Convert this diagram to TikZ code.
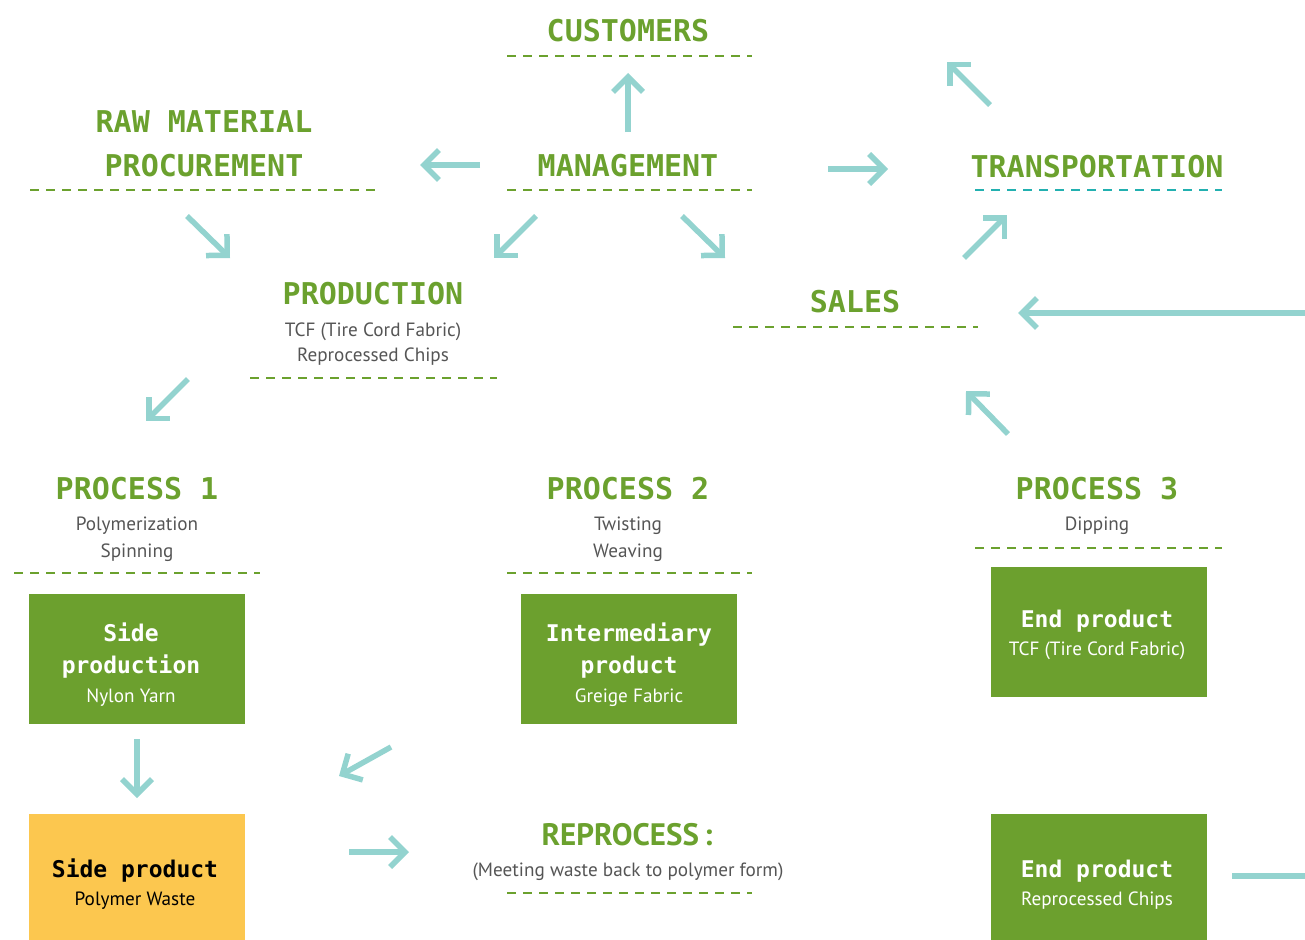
\documentclass[tikz,border=0pt]{standalone}
\usepackage{fontspec}
\setmainfont{PT Sans}
\newfontfamily\tfont{DejaVu Sans Mono}
\usetikzlibrary{arrows.meta}
\definecolor{tgreen}{HTML}{6BA12E}
\definecolor{bgreen}{HTML}{6CA02E}
\definecolor{teal}{HTML}{93D3CF}
\definecolor{yel}{HTML}{FCC74F}
\definecolor{gtext}{HTML}{555555}
\definecolor{tdash}{HTML}{22B0B0}
\tikzset{
  title/.style={font=\tfont\bfseries\fontsize{30}{36}\selectfont, text=tgreen, inner sep=0pt, anchor=base},
  sub/.style={font=\fontsize{19.2}{24}\selectfont, text=gtext, inner sep=0pt, anchor=base},
  btitle/.style={font=\tfont\bfseries\fontsize{23}{28}\selectfont, text=white, inner sep=0pt, anchor=base},
  bsub/.style={font=\fontsize{19.2}{24}\selectfont, text=white, inner sep=0pt, anchor=base},
  gbox/.style={fill=bgreen, draw=none, inner sep=0pt, minimum width=216pt},
  ybox/.style={fill=yel, draw=none, inner sep=0pt, minimum width=216pt},
  dline/.style={draw=tgreen, line width=2.4pt, dash pattern=on 9pt off 7pt},
  tline/.style={draw=tdash, line width=2.4pt, dash pattern=on 9pt off 7pt},
  arr/.style={draw=teal, line width=5.5pt, -{Straight Barb[length=15pt, width=30pt]}},
  plain/.style={draw=teal, line width=5.5pt},
}
\begin{document}
\begin{tikzpicture}[x=1pt, y=-1pt]
\useasboundingbox (0,0) rectangle (1305,939);

% ---- titles ----
\node[title] (cust) at (628,42) {CUSTOMERS};
\draw[dline] (507,56) -- (752,56);

\node[title] (mgmt) at (628,176) {MANAGEMENT};
\draw[dline] (507,190) -- (752,190);

\node[title] (raw1) at (204,132) {RAW MATERIAL};
\node[title] (raw2) at (204,176) {PROCUREMENT};
\draw[dline] (30,190) -- (378,190);

\node[title] (trans) at (1097,177) {TRANSPORTATION};
\draw[tline] (975,190) -- (1222,190);

\node[title] (prod) at (373,304) {PRODUCTION};
\node[sub] (prodA) at (373,336) {TCF (Tire Cord Fabric)};
\node[sub] (prodB) at (373,361) {Reprocessed Chips};
\draw[dline] (250,378) -- (497,378);

\node[title] (sales) at (855,312) {SALES};
\draw[dline] (733,327) -- (978,327);

\node[title] (p1) at (137,499) {PROCESS 1};
\node[sub] (p1a) at (137,530) {Polymerization};
\node[sub] (p1b) at (137,557) {Spinning};
\draw[dline] (14,573) -- (260,573);

\node[title] (p2) at (628,499) {PROCESS 2};
\node[sub] (p2a) at (628,530) {Twisting};
\node[sub] (p2b) at (628,557) {Weaving};
\draw[dline] (507,573) -- (752,573);

\node[title] (p3) at (1097,499) {PROCESS 3};
\node[sub] (p3a) at (1097,530) {Dipping};
\draw[dline] (975,548) -- (1222,548);

\node[font=\bfseries\fontsize{31}{36}\selectfont, text=tgreen, inner sep=0pt, anchor=base] (rep) at (627,845) {REPROCESS\,:};
\node[sub] (repA) at (628,876) {(Meeting waste back to polymer form)};
\draw[dline] (507,893) -- (752,893);

% ---- boxes ----
\node[gbox, minimum height=130pt] (sidebox) at (137,659) {};
\node[btitle] (sideA) at (131,641) {Side};
\node[btitle] (sideB) at (131,673) {production};
\node[bsub] (sideC) at (131,702) {Nylon Yarn};

\node[gbox, minimum height=130pt] (intbox) at (629,659) {};
\node[btitle] (intA) at (629,641) {Intermediary};
\node[btitle] (intB) at (629,673) {product};
\node[bsub] (intC) at (629,702) {Greige Fabric};

\node[gbox, minimum height=130pt] (endbox) at (1099,632) {};
\node[btitle] (endA) at (1097,627) {End product};
\node[bsub] (endB) at (1097,655) {TCF (Tire Cord Fabric)};

\node[ybox, minimum height=126pt] (wastebox) at (137,877) {};
\node[btitle, text=black] (wasteA) at (135,877) {Side product};
\node[bsub, text=black] (wasteB) at (135,905) {Polymer Waste};

\node[gbox, minimum height=126pt] (chipbox) at (1099,877) {};
\node[btitle] (chipA) at (1097,877) {End product};
\node[bsub] (chipB) at (1097,905) {Reprocessed Chips};

% ---- arrow coordinates ----
\coordinate (a1s) at (628,132);  \coordinate (a1e) at (628,73);
\coordinate (a2s) at (480,165);  \coordinate (a2e) at (420,165);
\coordinate (a3s) at (828,169);  \coordinate (a3e) at (888,169);
\coordinate (a4s) at (990,105);  \coordinate (a4e) at (947,62);
\coordinate (a5s) at (187,216);  \coordinate (a5e) at (230,258);
\coordinate (a6s) at (536,216);  \coordinate (a6e) at (494,258);
\coordinate (a7s) at (682,216);  \coordinate (a7e) at (725,258);
\coordinate (a8s) at (964,258);  \coordinate (a8e) at (1007,215);
\coordinate (a9s) at (1305,313); \coordinate (a9e) at (1018,313);
\coordinate (a10s) at (188,379); \coordinate (a10e) at (146,421);
\coordinate (a11s) at (1008,434); \coordinate (a11e) at (966,391);
\coordinate (a12s) at (137,739); \coordinate (a12e) at (137,798);
\coordinate (a13s) at (391,747); \coordinate (a13e) at (339,776);
\coordinate (a14s) at (349,852); \coordinate (a14e) at (409,852);
\coordinate (a15s) at (1232,876); \coordinate (a15e) at (1305,876);

\foreach \i in {1,...,14} {\draw[arr] (a\i s) -- (a\i e);}
\draw[plain] (a15s) -- (a15e);
\end{tikzpicture}
\end{document}
